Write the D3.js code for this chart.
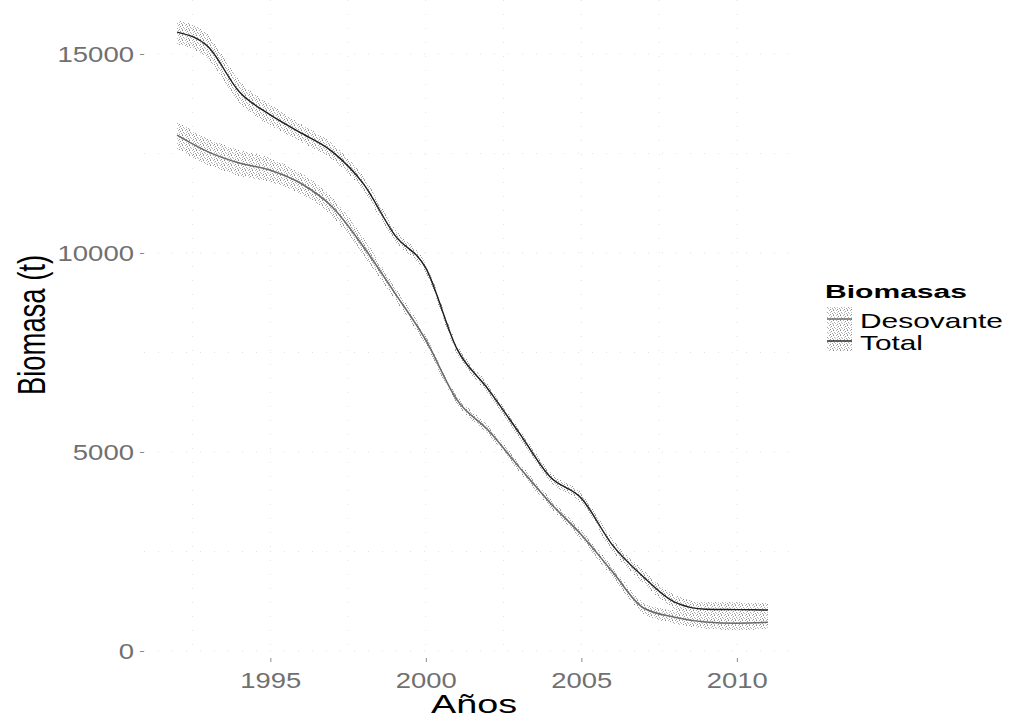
<!DOCTYPE html>
<html>
<head>
<meta charset="utf-8">
<script src="https://cdnjs.cloudflare.com/ajax/libs/d3/7.8.5/d3.min.js"></script>
<style>
  html, body { margin: 0; padding: 0; background: #fff; }
  svg { display: block; }
  text { font-family: "Liberation Sans", Arial, sans-serif; }
</style>
</head>
<body>
<svg id="chart" width="1011" height="720"></svg>
<script>
// Años de la serie
const years = [1992, 1993, 1994, 1995, 1996, 1997, 1998, 1999, 2000, 2001,
               2002, 2003, 2004, 2005, 2006, 2007, 2008, 2009, 2010, 2011];

// Biomasa total (t) y su intervalo
const total   = [15550, 15180, 14050, 13470, 13010, 12540, 11730, 10450, 9620, 7590,
                 6580, 5480, 4370, 3840, 2660, 1860, 1230, 1050, 1040, 1030];
const totalHi = [15850, 15480, 14330, 13730, 13230, 12740, 11910, 10600, 9750, 7710,
                 6700, 5600, 4490, 3970, 2810, 2020, 1400, 1230, 1220, 1210];
const totalLo = [15250, 14880, 13770, 13210, 12790, 12340, 11550, 10300, 9490, 7470,
                 6460, 5360, 4250, 3710, 2510, 1700, 1060, 870, 860, 850];

// Biomasa desovante (t) y su intervalo
const desov   = [12960, 12540, 12260, 12080, 11740, 11150, 10150, 9000, 7810, 6310,
                 5550, 4620, 3720, 2920, 1990, 1080, 850, 730, 700, 720];
const desovHi = [13300, 12870, 12580, 12380, 12000, 11390, 10370, 9150, 7930, 6420,
                 5660, 4730, 3830, 3040, 2120, 1220, 1010, 900, 870, 890];
const desovLo = [12620, 12210, 11940, 11780, 11480, 10910, 9930, 8850, 7690, 6200,
                 5440, 4510, 3610, 2800, 1860, 940, 690, 560, 530, 550];

// Marcas de los ejes
const xTicks = [1995, 2000, 2005, 2010];
const xMinor = [1992.5, 1997.5, 2002.5, 2007.5];
const yTicks = [0, 5000, 10000, 15000];
const yMinor = [2500, 7500, 12500];

const seriesNames = ["Desovante", "Total"];

const svg = d3.select("#chart");

const panel = { left: 144, right: 798, top: 0, bottom: 658 };

const x = d3.scaleLinear().domain([1991.05, 2011.95]).range([147.5, 797.5]);
const y = d3.scaleLinear().domain([0, 15000]).range([651, 54]);

// Textura punteada para las bandas
const defs = svg.append("defs");
const pat = defs.append("pattern")
  .attr("id", "stipple")
  .attr("patternUnits", "userSpaceOnUse")
  .attr("width", 7).attr("height", 5);
const dots = [
  [0, 0, "#8c8c8c"], [3, 0, "#b0b0b0"], [5, 1, "#9a9a9a"], [1, 2, "#a8a8a8"],
  [4, 2, "#c2c2c2"], [6, 3, "#9e9e9e"], [2, 3, "#bcbcbc"], [0, 4, "#b8b8b8"], [4, 4, "#929292"]
];
dots.forEach(([px, py, c]) => {
  pat.append("rect").attr("x", px).attr("y", py).attr("width", 1).attr("height", 1).attr("fill", c);
});

// Cuadrícula tenue
const grid = svg.append("g").attr("stroke", "#e2e2e2").attr("stroke-width", 1)
  .attr("stroke-dasharray", "1,13").attr("fill", "none");
[...xTicks, ...xMinor].forEach(v => {
  grid.append("line").attr("x1", x(v)).attr("x2", x(v))
    .attr("y1", panel.top).attr("y2", panel.bottom);
});
[...yTicks, ...yMinor].forEach(v => {
  grid.append("line").attr("x1", panel.left).attr("x2", panel.right)
    .attr("y1", y(v)).attr("y2", y(v));
});

const rows = years.map((yr, i) => ({
  yr, t: total[i], tHi: totalHi[i], tLo: totalLo[i],
  d: desov[i], dHi: desovHi[i], dLo: desovLo[i]
}));

const curve = d3.curveMonotoneX;

const areaT = d3.area().curve(curve).x(r => x(r.yr)).y0(r => y(r.tLo)).y1(r => y(r.tHi));
const areaD = d3.area().curve(curve).x(r => x(r.yr)).y0(r => y(r.dLo)).y1(r => y(r.dHi));
const lineT = d3.line().curve(curve).x(r => x(r.yr)).y(r => y(r.t));
const lineD = d3.line().curve(curve).x(r => x(r.yr)).y(r => y(r.d));

svg.append("path").datum(rows).attr("d", areaD).attr("fill", "url(#stipple)").attr("shape-rendering", "crispEdges");
svg.append("path").datum(rows).attr("d", areaT).attr("fill", "url(#stipple)").attr("shape-rendering", "crispEdges");

svg.append("path").datum(rows).attr("d", lineD)
  .attr("fill", "none").attr("stroke", "#6a6a6a").attr("stroke-width", 1.5);
svg.append("path").datum(rows).attr("d", lineT)
  .attr("fill", "none").attr("stroke", "#1e1e1e").attr("stroke-width", 1.4);

// Eje Y
const yAxis = svg.append("g")
  .attr("transform", `translate(${panel.left},0)`)
  .call(d3.axisLeft(y).tickValues(yTicks).tickSize(4).tickPadding(6).tickFormat(d3.format("d")));
yAxis.select(".domain").remove();
yAxis.selectAll(".tick line").attr("stroke", "#8a8a8a");
yAxis.selectAll(".tick text")
  .attr("fill", "#707070").attr("font-size", 22)
  .attr("font-family", "'Liberation Sans', Arial, sans-serif")
  .each(function (d) {
    const n = String(d).length;
    d3.select(this).attr("textLength", n * 15.3).attr("lengthAdjust", "spacingAndGlyphs");
  });

// Eje X
const xAxis = svg.append("g")
  .attr("transform", `translate(0,${panel.bottom})`)
  .call(d3.axisBottom(x).tickValues(xTicks).tickSize(4).tickPadding(10).tickFormat(d3.format("d")));
xAxis.select(".domain").remove();
xAxis.selectAll(".tick line").attr("stroke", "#8a8a8a");
xAxis.selectAll(".tick text")
  .attr("fill", "#707070").attr("font-size", 22)
  .attr("font-family", "'Liberation Sans', Arial, sans-serif")
  .attr("textLength", 61).attr("lengthAdjust", "spacingAndGlyphs");

// Títulos de ejes
svg.append("text")
  .attr("x", (panel.left + panel.right) / 2 + 3).attr("y", 713)
  .attr("text-anchor", "middle").attr("font-size", 25).attr("fill", "#000")
  .attr("textLength", 86).attr("lengthAdjust", "spacingAndGlyphs")
  .text("Años");

svg.append("g")
  .attr("transform", "translate(45,325) scale(1.4,1) rotate(-90)")
  .append("text")
  .attr("x", 0).attr("y", 0)
  .attr("text-anchor", "middle").attr("font-size", 28).attr("fill", "#000")
  .attr("textLength", 140).attr("lengthAdjust", "spacingAndGlyphs")
  .text("Biomasa (t)");

// Leyenda
const legend = svg.append("g");
legend.append("text")
  .attr("x", 825).attr("y", 298)
  .attr("font-size", 18).attr("font-weight", "bold").attr("fill", "#000")
  .attr("textLength", 142).attr("lengthAdjust", "spacingAndGlyphs")
  .text("Biomasas");

const keyTop = [307, 329];
const keyLine = [{ stroke: "#6a6a6a", w: 1.5 }, { stroke: "#1e1e1e", w: 1.4 }];
const labelLen = [143, 63];
seriesNames.forEach((name, i) => {
  legend.append("rect")
    .attr("x", 827).attr("y", keyTop[i]).attr("width", 25).attr("height", 22)
    .attr("fill", "url(#stipple)").attr("shape-rendering", "crispEdges");
  legend.append("line")
    .attr("x1", 827).attr("x2", 852)
    .attr("y1", keyTop[i] + 12).attr("y2", keyTop[i] + 12)
    .attr("stroke", keyLine[i].stroke).attr("stroke-width", keyLine[i].w);
  legend.append("text")
    .attr("x", 860).attr("y", keyTop[i] + 21)
    .attr("font-size", 21).attr("fill", "#000")
    .attr("textLength", labelLen[i]).attr("lengthAdjust", "spacingAndGlyphs")
    .text(name);
});
</script>
</body>
</html>
